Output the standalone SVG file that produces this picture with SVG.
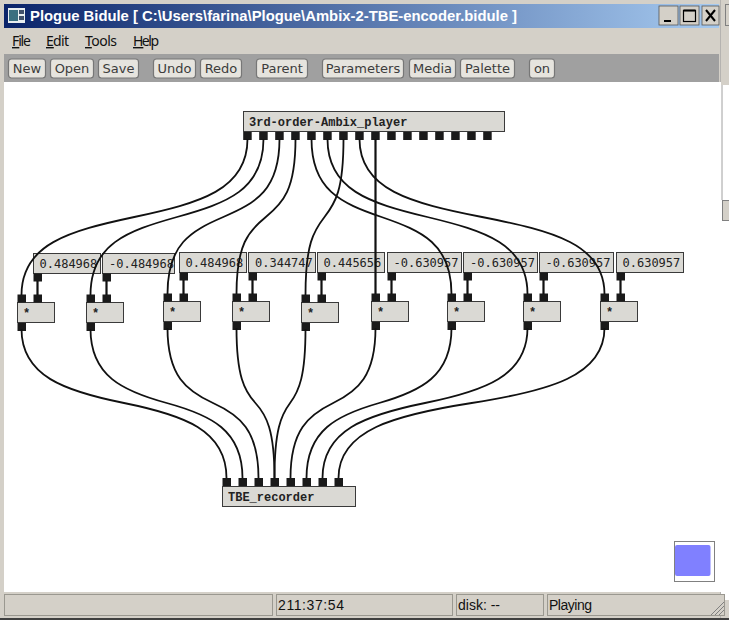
<svg xmlns="http://www.w3.org/2000/svg" width="729" height="620" viewBox="0 0 729 620">
<style>
.box{fill:#dad9d4;stroke:#3a3a3a;stroke-width:1}
.port{fill:#1a1a1a}
.port rect{width:8.5px;height:8px}
.wire{fill:none;stroke:#111;stroke-width:1.8}
.lbl{font-family:"Liberation Mono",monospace;font-weight:bold;font-size:12px;fill:#222}
.val{font-family:"DejaVu Sans Mono",monospace;font-size:12px;fill:#222}
.btn{fill:#e6e4de;stroke:#777;stroke-width:1.2}
.btnt{font-family:"DejaVu Sans",sans-serif;font-size:13px;fill:#3c3c3c;text-anchor:middle}
.menu{font-family:"Noto Sans","Liberation Sans",sans-serif;font-size:14px;fill:#111}
.stat{font-family:"Liberation Sans",sans-serif;font-size:14px;fill:#111}
.panel{fill:#d4d0c8;stroke:#9a9890;stroke-width:1}
</style>
<defs>
<linearGradient id="tbar" x1="0" x2="1" y1="0" y2="0"><stop offset="0" stop-color="#0a246a"/><stop offset="1" stop-color="#a6caf0"/></linearGradient>
</defs>
<g id="window">
<rect x="0" y="0" width="729" height="620" fill="#d4d0c8"/>
<rect x="721" y="85" width="8" height="515" fill="#fff"/>
<path d="M722 85V200" stroke="#a0a0a0" fill="none"/>
<rect x="722.5" y="200.5" width="8" height="20" fill="#d4d0c8" stroke="#808080"/>
<rect x="725.5" y="4.5" width="6" height="21" fill="#d4d0c8" stroke="#808080"/>
<path d="M720.5 0V620" stroke="#a0a0a0" fill="none" opacity=".6"/>
<rect x="4" y="4" width="715" height="24" fill="url(#tbar)"/>
<g id="icon"><rect x="8" y="8" width="17" height="15" fill="#e8eef0"/><rect x="9" y="10" width="9" height="11" fill="#3a6f80"/><rect x="19" y="10" width="5" height="4" fill="#40506a"/><rect x="19" y="16" width="5" height="4" fill="#40506a"/></g>
<text x="30" y="21" font-family="Liberation Sans,sans-serif" font-weight="bold" font-size="15px" fill="#fff" textLength="487" lengthAdjust="spacingAndGlyphs">Plogue Bidule [ C:\Users\farina\Plogue\Ambix-2-TBE-encoder.bidule ]</text>
<g id="window-buttons" fill="#d4d0c8" stroke="#555" stroke-width=".8">
<rect x="659" y="6" width="19" height="19"/><rect x="680" y="6" width="19" height="19"/><rect x="702" y="6" width="17" height="19"/>
<path d="M664 21H671" stroke="#000" stroke-width="2"/>
<rect x="683.5" y="10.5" width="12" height="11" fill="none" stroke="#000" stroke-width="1.2"/>
<path d="M683.5 10.5H695.5" stroke="#000" stroke-width="2"/>
<path d="M706 10L715 21M715 10L706 21" stroke="#000" stroke-width="2"/>
</g>
<text class="menu" x="12" y="46" textLength="19"><tspan text-decoration="underline">F</tspan>ile</text>
<text class="menu" x="46" y="46" textLength="23"><tspan text-decoration="underline">E</tspan>dit</text>
<text class="menu" x="85" y="46" textLength="32"><tspan text-decoration="underline">T</tspan>ools</text>
<text class="menu" x="133" y="46" textLength="26"><tspan text-decoration="underline">H</tspan>elp</text>
<rect x="4" y="54" width="715" height="28" fill="#a0a0a0"/>
<rect x="4" y="82" width="717" height="510" fill="#fff"/>
<g id="toolbar">
<rect class="btn" x="8.5" y="59" width="37" height="19" rx="3"/><text class="btnt" x="27" y="73">New</text>
<rect class="btn" x="50.5" y="59" width="43" height="19" rx="3"/><text class="btnt" x="72" y="73">Open</text>
<rect class="btn" x="98.5" y="59" width="40" height="19" rx="3"/><text class="btnt" x="118.5" y="73">Save</text>
<rect class="btn" x="153.5" y="59" width="42" height="19" rx="3"/><text class="btnt" x="174.5" y="73">Undo</text>
<rect class="btn" x="200.5" y="59" width="41" height="19" rx="3"/><text class="btnt" x="221" y="73">Redo</text>
<rect class="btn" x="256.5" y="59" width="51" height="19" rx="3"/><text class="btnt" x="282" y="73">Parent</text>
<rect class="btn" x="322.5" y="59" width="81" height="19" rx="3"/><text class="btnt" x="363" y="73">Parameters</text>
<rect class="btn" x="409.5" y="59" width="46" height="19" rx="3"/><text class="btnt" x="432.5" y="73">Media</text>
<rect class="btn" x="460.5" y="59" width="54" height="19" rx="3"/><text class="btnt" x="487.5" y="73">Palette</text>
<rect class="btn" x="529.5" y="59" width="25" height="19" rx="3"/><text class="btnt" x="542" y="73">on</text>
</g>
<g id="statusbar">
<rect class="panel" x="4.5" y="594.5" width="268" height="21"/>
<rect class="panel" x="276.5" y="594.5" width="176" height="21"/>
<rect class="panel" x="456.5" y="594.5" width="87" height="21"/>
<rect class="panel" x="547.5" y="594.5" width="177" height="21"/>
<text class="stat" x="278" y="610" textLength="66">211:37:54</text>
<text class="stat" x="458" y="610" textLength="42">disk: --</text>
<text class="stat" x="549" y="610" textLength="43">Playing</text>
<path d="M711 615L724 602M715 615L724 606M719 615L724 610" stroke="#808080" fill="none"/>
<rect x="0" y="618" width="729" height="2" fill="#404040"/>
</g>
<g id="navigator">
<rect x="674.5" y="541.5" width="40" height="40" fill="#fff" stroke="#808080"/>
<rect x="675" y="545" width="35.5" height="31" rx="2" fill="#8080ff"/>
</g>
</g>

<g id="player">
<rect class="box" x="243.5" y="111.5" width="261" height="20"/>
<text class="lbl" x="249" y="126">3rd-order-Ambix_player</text>
<g class="port">
<rect x="243.2" y="132" width="8" height="7.5"/><rect x="259.2" y="132" width="8" height="7.5"/><rect x="275.2" y="132" width="8" height="7.5"/><rect x="291.2" y="132" width="8" height="7.5"/>
<rect x="307.2" y="132" width="8" height="7.5"/><rect x="323.2" y="132" width="8" height="7.5"/><rect x="339.2" y="132" width="8" height="7.5"/><rect x="355.2" y="132" width="8" height="7.5"/>
<rect x="371.2" y="132" width="8" height="7.5"/><rect x="387.2" y="132" width="8" height="7.5"/><rect x="403.2" y="132" width="8" height="7.5"/><rect x="419.2" y="132" width="8" height="7.5"/>
<rect x="435.2" y="132" width="8" height="7.5"/><rect x="451.2" y="132" width="8" height="7.5"/><rect x="467.2" y="132" width="8" height="7.5"/><rect x="483.2" y="132" width="8" height="7.5"/>
</g>
</g>

<g id="value1"><rect class="box" x="33.5" y="253.5" width="67" height="20"/><text class="val" x="39.5" y="268">0.484968</text><g class="port"><rect x="33.5" y="273.5" width="8" height="7.5"/></g></g>
<g id="value2"><rect class="box" x="102.5" y="253.5" width="72" height="20"/><text class="val" x="109" y="268">-0.484968</text><g class="port"><rect x="102.5" y="273.5" width="8" height="7.5"/></g></g>
<g id="value3"><rect class="box" x="179.5" y="252.5" width="67" height="20"/><text class="val" x="185.5" y="267">0.484968</text><g class="port"><rect x="179.5" y="272.5" width="8" height="7.5"/></g></g>
<g id="value4"><rect class="box" x="248.5" y="252.5" width="67" height="20"/><text class="val" x="255" y="267">0.344747</text><g class="port"><rect x="248.5" y="272.5" width="8" height="7.5"/></g></g>
<g id="value5"><rect class="box" x="317.5" y="252.5" width="67" height="20"/><text class="val" x="323.5" y="267">0.445656</text><g class="port"><rect x="317.5" y="272.5" width="8" height="7.5"/></g></g>
<g id="value6"><rect class="box" x="387.5" y="252.5" width="74" height="20"/><text class="val" x="393.5" y="267">-0.630957</text><g class="port"><rect x="387.5" y="272.5" width="8" height="7.5"/></g></g>
<g id="value7"><rect class="box" x="463.5" y="252.5" width="74" height="20"/><text class="val" x="470" y="267">-0.630957</text><g class="port"><rect x="463.5" y="272.5" width="8" height="7.5"/></g></g>
<g id="value8"><rect class="box" x="539.5" y="252.5" width="74" height="20"/><text class="val" x="545.5" y="267">-0.630957</text><g class="port"><rect x="539.5" y="272.5" width="8" height="7.5"/></g></g>
<g id="value9"><rect class="box" x="616.5" y="252.5" width="67" height="20"/><text class="val" x="622.5" y="267">0.630957</text><g class="port"><rect x="616.5" y="272.5" width="8" height="7.5"/></g></g>

<g id="mult1"><rect class="box" x="17.5" y="302.5" width="37" height="20"/><text class="lbl" x="23" y="317">*</text><g class="port"><rect x="17.5" y="294.5" width="8" height="7.5"/><rect x="33.5" y="294.5" width="8" height="7.5"/><rect x="17.5" y="323" width="8" height="7"/></g></g>
<g id="mult2"><rect class="box" x="86.5" y="302.5" width="37" height="20"/><text class="lbl" x="92" y="317">*</text><g class="port"><rect x="86.5" y="294.5" width="8" height="7.5"/><rect x="102.5" y="294.5" width="8" height="7.5"/><rect x="86.5" y="323" width="8" height="7"/></g></g>
<g id="mult3"><rect class="box" x="163.5" y="301.5" width="37" height="20"/><text class="lbl" x="169" y="316">*</text><g class="port"><rect x="163.5" y="293.5" width="8" height="7.5"/><rect x="179.5" y="293.5" width="8" height="7.5"/><rect x="163.5" y="322" width="8" height="7"/></g></g>
<g id="mult4"><rect class="box" x="232.5" y="301.5" width="37" height="20"/><text class="lbl" x="238" y="316">*</text><g class="port"><rect x="232.5" y="293.5" width="8" height="7.5"/><rect x="248.5" y="293.5" width="8" height="7.5"/><rect x="232.5" y="322" width="8" height="7"/></g></g>
<g id="mult5"><rect class="box" x="301.5" y="302.5" width="37" height="20"/><text class="lbl" x="307" y="317">*</text><g class="port"><rect x="301.5" y="294.5" width="8" height="7.5"/><rect x="317.5" y="294.5" width="8" height="7.5"/><rect x="301.5" y="323" width="8" height="7"/></g></g>
<g id="mult6"><rect class="box" x="371.5" y="301.5" width="37" height="20"/><text class="lbl" x="377" y="316">*</text><g class="port"><rect x="371.5" y="293.5" width="8" height="7.5"/><rect x="387.5" y="293.5" width="8" height="7.5"/><rect x="371.5" y="322" width="8" height="7"/></g></g>
<g id="mult7"><rect class="box" x="447.5" y="301.5" width="37" height="20"/><text class="lbl" x="453" y="316">*</text><g class="port"><rect x="447.5" y="293.5" width="8" height="7.5"/><rect x="463.5" y="293.5" width="8" height="7.5"/><rect x="447.5" y="322" width="8" height="7"/></g></g>
<g id="mult8"><rect class="box" x="523.5" y="301.5" width="37" height="20"/><text class="lbl" x="529" y="316">*</text><g class="port"><rect x="523.5" y="293.5" width="8" height="7.5"/><rect x="539.5" y="293.5" width="8" height="7.5"/><rect x="523.5" y="322" width="8" height="7"/></g></g>
<g id="mult9"><rect class="box" x="600.5" y="301.5" width="37" height="20"/><text class="lbl" x="606" y="316">*</text><g class="port"><rect x="600.5" y="293.5" width="8" height="7.5"/><rect x="616.5" y="293.5" width="8" height="7.5"/><rect x="600.5" y="322" width="8" height="7"/></g></g>

<g id="recorder">
<rect class="box" x="222.5" y="486.5" width="133" height="20"/>
<text class="lbl" x="228" y="501">TBE_recorder</text>
<g class="port">
<rect x="222.5" y="478" width="8" height="8"/><rect x="238.5" y="478" width="8" height="8"/><rect x="254.5" y="478" width="8" height="8"/><rect x="270.5" y="478" width="8" height="8"/>
<rect x="286.5" y="478" width="8" height="8"/><rect x="302.5" y="478" width="8" height="8"/><rect x="318.5" y="478" width="8" height="8"/><rect x="334.5" y="478" width="8" height="8"/>
</g>
</g>

<g id="connectors" class="wire">
<path d="M247.5 139C247.5 190 199.8 203 134.3 217S21.5 244 21.5 295"/>
<path d="M263.5 139C263.5 190 227 203 177 217S90.5 244 90.5 295"/>
<path d="M279.5 139C279.5 190 255.8 203 223.3 217S167.5 244 167.5 294"/>
<path d="M295.5 139C295.5 190 282.9 203 265.8 217S236.5 244 236.5 294"/>
<path d="M311.5 139C311.5 190 340.8 203 381.5 217S451.5 244 451.5 294"/>
<path d="M327.5 139C327.5 190 369.3 203 427.3 217S527.5 244 527.5 294"/>
<path d="M343.5 139C343.5 190 335.4 203 324.5 217S305.5 244 305.5 295"/>
<path d="M359.5 139C359.5 190 411 203 482 217S604.5 244 604.5 294"/>
<path d="M375.5 139V294" stroke-width="2.2"/>
<path d="M37.5 281V295M106.5 281V295M183.5 280V294M252.5 280V294M321.5 280V295M391.5 280V294M467.5 280V294M543.5 280V294M620.5 280V294" stroke-width="2.2"/>
<path d="M21.5 329C21.5 376 64.4 391 124 403S226.5 430 226.5 478"/>
<path d="M90.5 329C90.5 376 122.7 391 166.7 403S242.5 430 242.5 478"/>
<path d="M167.5 328C167.5 376 186.5 391 213 403S258.5 430 258.5 478"/>
<path d="M236.5 328C236.5 376 244.4 391 255.4 403S274.5 430 274.5 478"/>
<path d="M305.5 329C305.5 376 299.1 391 290.1 403S274.5 430 274.5 478"/>
<path d="M375.5 328C375.5 376 357.9 391 333.2 403S290.5 430 290.5 478"/>
<path d="M451.5 328C451.5 376 421.2 391 379.2 403S306.5 430 306.5 478"/>
<path d="M527.5 328C527.5 376 484.3 391 425 403S322.5 430 322.5 478"/>
<path d="M604.5 328C604.5 376 548.8 391 471.7 403S338.5 430 338.5 478"/>
</g>
</svg>
